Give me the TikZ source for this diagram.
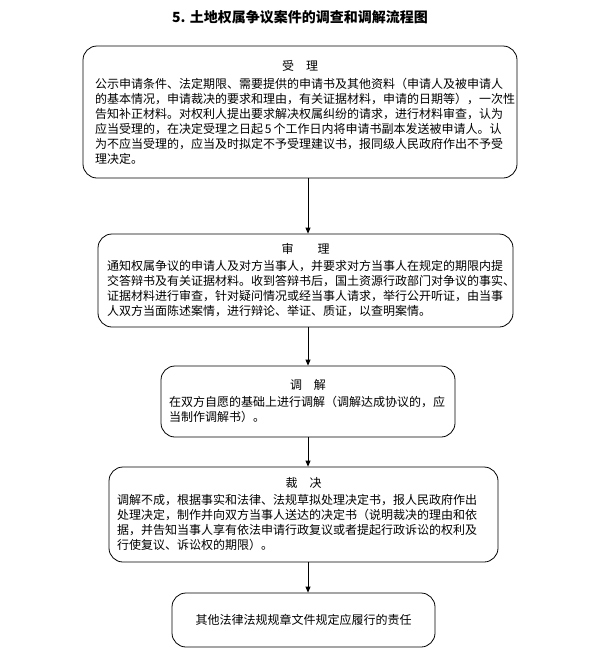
\documentclass[tikz,border=0pt]{standalone}
\usepackage{fontspec}
\newfontfamily\cjk{Noto Sans CJK SC}
\usetikzlibrary{arrows.meta}

\tikzset{
  stepbox/.style={draw, line width=0.8pt, rounded corners=14pt, align=left,
    inner sep=0pt, font=\cjk\fontsize{12}{15}\selectfont},
  flow/.style={line width=0.8pt, -{Triangle[length=6pt,width=5pt]}}
}
\newcommand{\boxhead}[1]{\makebox[\linewidth][c]{#1}}

\begin{document}
\begin{tikzpicture}[x=1pt, y=-1pt]
        % Page frame
        \useasboundingbox (0,0) rectangle (594,664);
        
        % Title
        \node[font=\cjk\bfseries\fontsize{14}{16}\selectfont] (title) at (300,17) {5. 土地权属争议案件的调查和调解流程图};
        
        % Step 1: acceptance
        \node[stepbox, minimum width=434, minimum height=132, text width=410] (accept) at (300,112)
          {\boxhead{受\quad 理}\\[3pt]
           公示申请条件、法定期限、需要提供的申请书及其他资料（申请人及被申请人\\
           的基本情况，申请裁决的要求和理由，有关证据材料，申请的日期等），一次性\\
           告知补正材料。对权利人提出要求解决权属纠纷的请求，进行材料审查，认为\\
           应当受理的，在决定受理之日起\,5\,个工作日内将申请书副本发送被申请人。认\\
           为不应当受理的，应当及时拟定不予受理建议书，报同级人民政府作出不予受\\
           理决定。};
        
        % Step 2: hearing
        \node[stepbox, minimum width=415, minimum height=93, text width=397] (hear) at (305.5,280.5)
          {\boxhead{审\qquad 理}\\[2pt]
           通知权属争议的申请人及对方当事人，并要求对方当事人在规定的期限内提\\
           交答辩书及有关证据材料。收到答辩书后，国土资源行政部门对争议的事实、\\
           证据材料进行审查，针对疑问情况或经当事人请求，举行公开听证，由当事\\
           人双方当面陈述案情，进行辩论、举证、质证，以查明案情。};
        
        % Step 3: mediation
        \node[stepbox, minimum width=294, minimum height=71, text width=278] (mediate) at (308,401.5)
          {\boxhead{调\quad 解}\\[2pt]
           在双方自愿的基础上进行调解（调解达成协议的，应\\
           当制作调解书）。};
        
        % Step 4: ruling
        \node[stepbox, minimum width=389, minimum height=95, text width=373] (rule) at (303.5,514.5)
          {\boxhead{裁\quad 决}\\[2pt]
           调解不成，根据事实和法律、法规草拟处理决定书，报人民政府作出\\
           处理决定，制作并向双方当事人送达的决定书（说明裁决的理由和依\\
           据，并告知当事人享有依法申请行政复议或者提起行政诉讼的权利及\\
           行使复议、诉讼权的期限）。};
        
        % Step 5: other duties
        \node[stepbox, align=center, minimum width=263, minimum height=54] (other) at (303.5,620)
          {其他法律法规规章文件规定应履行的责任};
        
        % Arrows between steps
        \coordinate (ax) at (308,0);
        \draw[flow] (accept.south -| ax) -- (hear.north -| ax);
        \draw[flow] (hear.south -| ax) -- (mediate.north -| ax);
        \draw[flow] (mediate.south -| ax) -- (rule.north -| ax);
        \draw[flow] (rule.south -| ax) -- (other.north -| ax);
        
    \end{tikzpicture}
\end{document}
